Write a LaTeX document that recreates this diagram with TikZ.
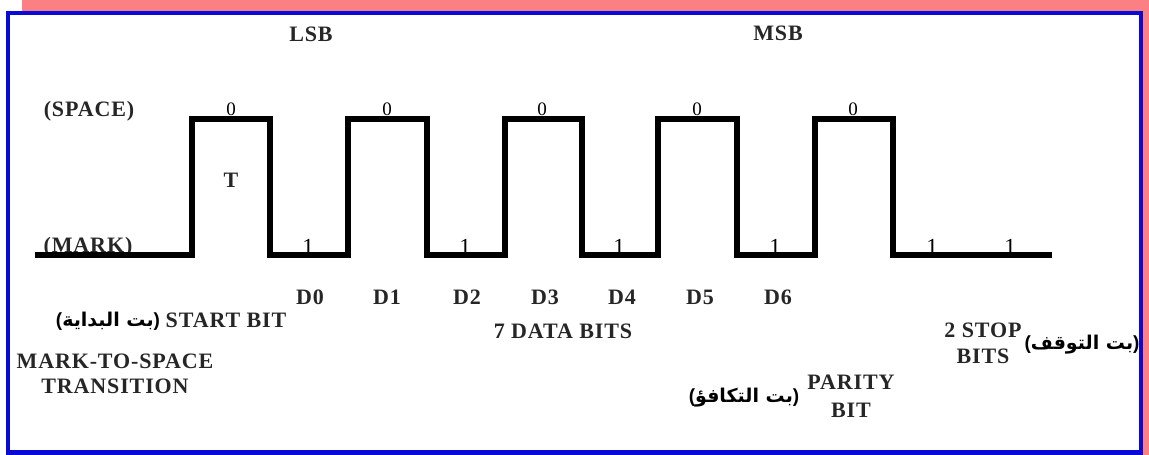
\documentclass[tikz,border=0pt]{standalone}
\usepackage{fontspec}
\setmainfont{Liberation Serif}
\newfontfamily\lblfamily[LetterSpace=4]{Liberation Serif}
\newfontfamily\arabicfont[Script=Arabic]{DejaVu Sans}
\newfontfamily\parenfont{Liberation Sans}
\TeXXeTstate=1
\usepackage{tikz}
\usetikzlibrary{calc}

\definecolor{framepink}{RGB}{250,128,132}
\definecolor{frameblue}{RGB}{10,10,215}

\newcommand{\lblfont}{\fontsize{22}{25}\selectfont\lblfamily\bfseries}
\newcommand{\zerofont}{\fontsize{19}{21}\selectfont}
\newcommand{\onefont}{\fontsize{23}{25}\selectfont}
\newcommand{\arfont}{\fontsize{19}{22}\selectfont\arabicfont\bfseries}
% arabic words between latin brackets
\newcommand{\arlabel}[1]{{\parenfont(}\beginR #1\endR{\parenfont)}}

\tikzset{
	wave/.style={line width=5.5pt, line join=miter},
	lbl/.style={font=\lblfont, text=black!85, inner sep=0pt},
	bitval/.style={inner sep=0pt, anchor=base},
	arlbl/.style={font=\arfont, inner sep=0pt}
}

\begin{document}
\begin{tikzpicture}[x=1pt,y=-1pt]
	\useasboundingbox (0,0) rectangle (1149,455);
	% frame
	\fill[framepink] (22,0) rectangle (1149,455);
	\fill[white] (8,13) rectangle (1141,452.5);
	\draw[frameblue, line width=4.5pt] (8,13) rectangle (1141,452.5);
	
	% signal levels
	\node[lbl] (space) at (89,111) {(SPACE)};
	\node[lbl, anchor=base] (mark) at (88,252) {(MARK)};
	
	% serial waveform
	\draw[wave] (35,255) -- (192,255) -- (192,119) -- (270,119) -- (270,255)
		-- (348,255) -- (348,119) -- (427,119) -- (427,255)
		-- (505,255) -- (505,119) -- (582,119) -- (582,255)
		-- (658,255) -- (658,119) -- (737,119) -- (737,255)
		-- (815,255) -- (815,119) -- (893,119) -- (893,255)
		-- (1052,255);
	
	% bit values on the line
	\foreach \x/\n in {231/a, 387/b, 542/c, 697/d, 853/e}
		\node[bitval, font=\zerofont] (zero\n) at (\x,115) {0};
	\foreach \x/\n in {308/a, 465/b, 619/c, 775/d, 932/e, 1010/f}
		\node[bitval, font=\onefont] (one\n) at (\x,254) {1};
	\node[lbl] (period) at (231,180) {T};
	
	\node[lbl] (lsb) at (311,34) {LSB};
	\node[lbl] (msb) at (778,33) {MSB};
	
	% data bit names
	\foreach \x/\d in {310/0, 387/1, 467/2, 545/3, 622/4, 700/5, 778/6}
		\node[lbl] (d\d) at (\x,297) {D\d};
	
	\node[lbl] (start) at (226,320) {START BIT};
	\node[arlbl] (startar) at (108,321) {\arlabel{بت البداية}};
	\node[lbl, align=center] (trans) at (115,374) {MARK-TO-SPACE\\TRANSITION};
	\node[lbl] (data) at (563,331) {7 DATA BITS};
	\node[lbl, align=center] (parity) at (851,396) {PARITY\\[3pt]BIT};
	\node[arlbl] (parityar) at (744,398) {\arlabel{بت التكافؤ}};
	\node[lbl, align=center] (stop) at (983,343) {2 STOP\\[1pt]BITS};
	\node[arlbl] (stopar) at (1082,345) {\arlabel{بت التوقف}};
\end{tikzpicture}
\end{document}
